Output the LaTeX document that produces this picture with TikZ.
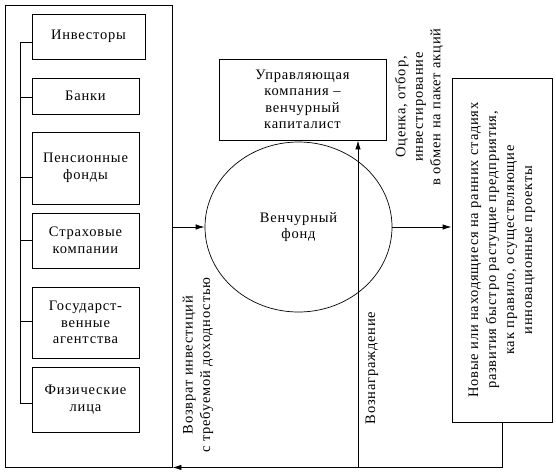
\documentclass[tikz,border=0pt]{standalone}
\usepackage{fontspec}
\setmainfont[LetterSpace=5.5]{Liberation Serif}
\usetikzlibrary{shapes.geometric,arrows.meta}
\tikzset{
  every node/.style={font=\fontsize{14.5}{16.5}\selectfont},
  ibox/.style={draw, line width=0.9pt, align=center, inner sep=0pt},
  lbl/.style={rotate=90, align=center, inner sep=0pt, font=\fontsize{14.5}{17.5}\selectfont},
  conn/.style={line width=0.9pt},
  arr/.style={conn, -{Latex[length=9pt,width=5.5pt]}},
}
\begin{document}
\begin{tikzpicture}[x=1pt,y=-1pt]
\useasboundingbox (0,0) rectangle (556,471);
% outer investor box
\node[ibox, minimum width=167, minimum height=462] (outer) at (88.5,236) {};
\node[ibox, minimum width=113, minimum height=45] (inv) at (88.5,36.5) {Инвесторы};
\node[ibox, minimum width=107, minimum height=36] (bank) at (85.5,96) {Банки};
\node[ibox, minimum width=107, minimum height=72] (pens) at (85.5,168) {Пенсионные\\фонды};
\node[ibox, minimum width=107, minimum height=55] (ins) at (85.5,240.5) {Страховые\\компании};
\node[ibox, minimum width=107, minimum height=71] (gov) at (85.5,322.5) {Государст-\\венные\\агентства};
\node[ibox, minimum width=107, minimum height=65] (phys) at (85.5,399.5) {Физические\\лица};
% bus
\coordinate (b1) at (20,42);
\coordinate (b2) at (20,97);
\coordinate (b3) at (20,177);
\coordinate (b4) at (20,240);
\coordinate (b5) at (20,321);
\coordinate (b6) at (20,403);
\draw[conn] (b1) -- (b6);
\draw[conn] (b1) -- (b1 -| inv.west);
\draw[conn] (b2) -- (b2 -| bank.west);
\draw[conn] (b3) -- (b3 -| pens.west);
\draw[conn] (b4) -- (b4 -| ins.west);
\draw[conn] (b5) -- (b5 -| gov.west);
\draw[conn] (b6) -- (b6 -| phys.west);
% fund
\node[ellipse, draw, line width=0.7pt, minimum width=187, minimum height=170, align=center, inner sep=0pt] (fund) at (298.5,227) {Венчурный\\фонд};
\node[ibox, minimum width=167, minimum height=81] (mgr) at (302.5,99.5) {Управляющая\\компания –\\венчурный\\капиталист};
\node[ibox, minimum width=100, minimum height=344] (ent) at (502,250) {};
\node[lbl, font=\fontsize{14.5}{18}\selectfont] (enttxt) at (ent.center) {Новые или находящиеся на ранних стадиях\\развития быстро растущие предприятия,\\как правило, осуществляющие\\инновационные проекты};
% connectors
\draw[arr] (outer.east |- fund.west) -- (fund.west);
\draw[arr] (fund.east) -- (fund.east -| ent.west);
\coordinate (up) at (358,467);
\draw[arr] (up) -- (up |- mgr.south);
\draw[arr] (ent.south) |- (outer.south east);
% labels
\node[lbl] (l1) at (419,107) {Оценка, отбор,\\инвестирование\\в обмен на пакет акций};
\node[lbl] (l2) at (198,365) {Возврат инвестиций\\с требуемой доходностью};
\node[lbl] (l3) at (372,368) {Вознаграждение};
\end{tikzpicture}
\end{document}
